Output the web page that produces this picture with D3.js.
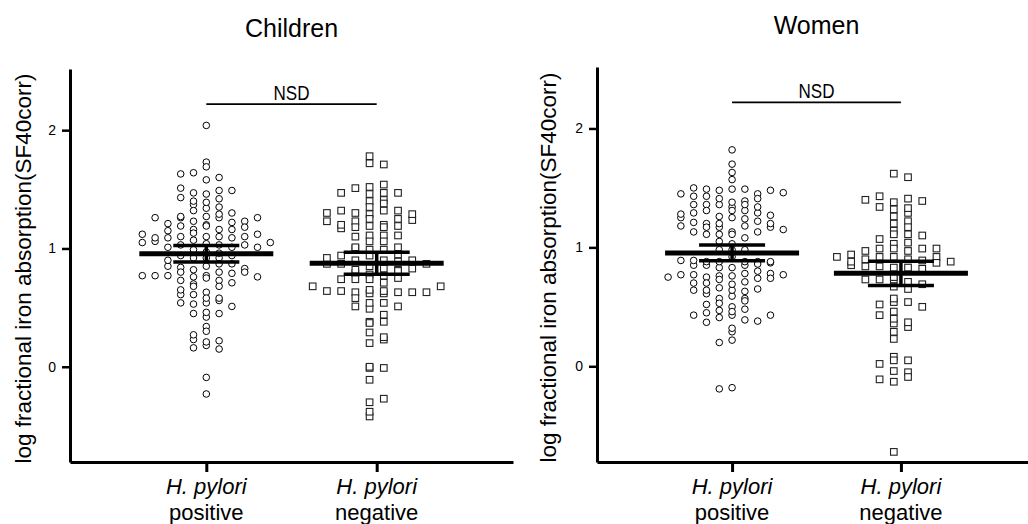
<!DOCTYPE html>
<html>
<head>
<meta charset="utf-8">
<script src="https://cdn.jsdelivr.net/npm/d3@7"></script>
<style>
  body { margin: 0; background: #fff; }
  svg { display: block; font-family: "Liberation Sans", Arial, sans-serif; }
</style>
</head>
<body>
<svg id="chart" width="1028" height="524"></svg>
<script>
// values (log fractional iron absorption)
const panelTitles = ["Children", "Women"];
const groupNames = ["positive", "negative"];
const yTicks = [0, 1, 2];
const sigLabel = "NSD";
const sigLevel = 2.22;

const childrenPositive = [
  1.05, 0.99, 0.77,
  1.12, 1.06, 0.85, 0.77,
  1.26, 1.21, 1.15, 1.09, 1.01, 0.90, 0.84, 0.77,
  1.26, 1.19, 1.09, 0.94, 0.80, 0.73, 0.61,
  1.51, 1.43, 1.37, 1.23, 1.16, 1.10, 1.03, 0.92, 0.76, 0.65, 0.54, 0.45,
  1.73, 1.63, 1.47, 1.40, 1.34, 1.27, 1.20, 1.13, 1.07, 0.97, 0.92, 0.82, 0.77, 0.70, 0.53, 0.34, 0.23, 0.16,
  2.04, 1.64, 1.58, 1.46, 1.39, 1.32, 1.26, 1.19, 1.10, 1.04, 0.92, 0.85, 0.75, 0.68, 0.61, 0.54, 0.42, 0.27, 0.18, -0.09, -0.23,
  1.69, 1.60, 1.49, 1.42, 1.35, 1.27, 1.10, 1.03, 0.96, 0.80, 0.73, 0.63, 0.56, 0.46, 0.30, 0.21, 0.15,
  1.49, 1.29, 1.22, 1.16, 1.09, 1.01, 0.87, 0.68, 0.58, 0.51, 0.45, 0.22,
  1.30, 1.23, 1.16, 1.10, 1.03, 0.87, 0.79, 0.71, 0.58,
  1.26, 1.18, 0.94, 0.83,
  1.12, 1.01, 0.80,
  1.05, 0.76
];
const childrenNegative = [
  0.68,
  1.30, 1.23, 0.87, 0.64,
  1.32, 1.17, 0.87, 0.79, 0.74, 0.64,
  1.52, 1.30, 1.20, 1.00, 0.92, 0.78, 0.63, 0.58, 0.49,
  1.47, 1.40, 1.29, 1.23, 1.10, 1.01, 0.94, 0.90, 0.82, 0.62, 0.51, 0.44,
  1.72, 1.41, 1.25, 1.20, 1.11, 0.99, 0.85, 0.74, 0.65, 0.38, 0.20, -0.01, -0.30, -0.42,
  1.78, 1.71, 1.51, 1.46, 1.35, 1.25, 1.18, 1.11, 0.94, 0.90, 0.83, 0.74, 0.62, 0.54, 0.38, 0.29, 0.23, -0.01, -0.11, -0.27, -0.38,
  1.47, 1.38, 1.32, 1.19, 1.11, 1.06, 0.99, 0.89, 0.82, 0.77, 0.71, 0.64, 0.54, 0.37, 0.25, 0.00,
  1.54, 1.47, 1.24, 1.18, 1.06, 0.83, 0.63, 0.51,
  1.32, 1.19, 1.01, 0.95, 0.90, 0.81, 0.75, 0.63,
  1.29, 0.87, 0.63,
  0.68
];
const womenPositive = [
  0.85, 0.75,
  1.45, 1.36, 1.25, 1.18, 0.85, 0.77,
  1.50, 1.43, 1.36, 1.28, 1.21, 0.89, 0.83, 0.77, 0.70,
  1.43, 1.36, 1.29, 1.20, 1.13, 0.98, 0.89, 0.83, 0.75, 0.61, 0.43,
  1.49, 1.41, 1.17, 1.11, 0.88, 0.76, 0.70, 0.64, 0.57, 0.52, 0.45, 0.37,
  1.48, 1.31, 1.17, 1.11, 0.98, 0.88, 0.76, 0.64, 0.53, 0.47, 0.41,
  1.82, 1.70, 1.57, 1.49, 1.34, 1.26, 1.20, 1.13, 1.05, 0.98, 0.92, 0.85, 0.78, 0.66, 0.59, 0.50, 0.43, 0.29, 0.20, -0.19,
  1.63, 1.38, 1.31, 1.25, 1.18, 1.13, 1.03, 0.88, 0.80, 0.73, 0.64, 0.57, 0.46, 0.39, 0.32, 0.22, -0.18,
  1.49, 1.39, 1.31, 1.24, 1.17, 1.11, 0.69, 0.63, 0.55, 0.48, 0.38,
  1.45, 1.36, 1.29, 1.22, 1.08, 0.88, 0.78, 0.65, 0.43,
  1.48, 1.41, 1.34, 1.27, 1.20, 0.86, 0.77, 0.71,
  1.46, 1.15, 0.87, 0.74,
  0.88, 0.74
];
const womenNegative = [
  0.92, 0.85,
  0.94, 0.88, 0.73,
  1.34, 1.03, 0.97, 0.90,
  1.40, 1.32, 1.26, 1.14, 1.07, 0.99, 0.92, 0.84, 0.73, 0.52, 0.43, 0.36, 0.08, 0.02,
  1.62, 1.43, 1.38, 1.29, 0.99, 0.92, 0.84, 0.73, 0.67, 0.54, 0.40, 0.33, 0.05, -0.04, -0.11,
  0.23, -0.72,
  1.59, 1.41, 1.20, 1.11, 0.97, 0.90, 0.83, 0.71, 0.65, 0.54, 0.46, 0.29, 0.05, -0.05, -0.13,
  1.39, 1.33, 1.22, 1.11, 1.04, 0.89, 0.83, 0.75, 0.69, 0.57, 0.50, 0.37, -0.09,
  1.17, 1.10, 0.99, 0.92,
  0.99, 0.88, 0.82,
  0.87
];
const groupMeans = [[0.955, 0.874], [0.953, 0.782]];
const groupSem = [[0.070, 0.093], [0.066, 0.102]];

const panelData = [[childrenPositive, childrenNegative], [womenPositive, womenNegative]];

// layout
const layout = [
  { left: 70, right: 513, top: 69, bottom: 462, titleY: 28, labelX: 31 },
  { left: 597, right: 1036, top: 67, bottom: 462, titleY: 25, labelX: 556 }
];
const columnShift = [0, 0.5];   // circles sit on whole columns, squares on half columns
const yDomain = [-0.805, 2.517];
const halfSpread = 64;
const binPx = 7.5;

const svg = d3.select("#chart");

// spread points of one group sideways, row by row (Prism-like scatter)
function swarm(values, y, shift) {
  const pts = values.map((v, i) => ({ v: v, i: i, py: y(v) }));
  const rows = d3.group(pts, d => Math.floor(d.py / binPx));
  let maxOff = 0;
  rows.forEach(function (row) {
    const cand = [];
    for (let k = 0; cand.length < row.length; k++) {
      const o = shift ? (k % 2 ? 1 : -1) * (Math.floor(k / 2) + 0.5)
                      : (k === 0 ? 0 : (k % 2 ? -1 : 1) * Math.ceil(k / 2));
      cand.push(o);
    }
    cand.sort(d3.ascending);
    row.forEach(function (d, k) {
      d.off = cand[k];
      maxOff = Math.max(maxOff, Math.abs(d.off));
    });
  });
  const step = maxOff ? Math.min(halfSpread / maxOff, 15) : 0;
  pts.forEach(d => d.dx = d.off * step);
  return pts;
}

layout.forEach(function (L, p) {
  const g = svg.append("g");

  const y = d3.scaleLinear().domain(yDomain).range([L.bottom, L.top]);
  const x = d3.scalePoint().domain(groupNames).range([L.left, L.right]).padding(0.8);

  // y axis
  const yAxis = g.append("g")
    .attr("transform", "translate(" + L.left + ",0)")
    .call(d3.axisLeft(y).tickValues(yTicks).tickFormat(d3.format("d")).tickSize(8).tickSizeOuter(0).tickPadding(6));
  yAxis.select(".domain").attr("stroke-width", 3);
  yAxis.selectAll(".tick line").attr("stroke-width", 2.5);
  yAxis.selectAll(".tick text").attr("font-size", 14).attr("font-family", "Liberation Sans, Arial, sans-serif").attr("fill", "#000");

  // x axis
  const xAxis = g.append("g")
    .attr("transform", "translate(0," + L.bottom + ")")
    .call(d3.axisBottom(x).tickSize(10).tickSizeOuter(0).tickFormat(""));
  xAxis.select(".domain").attr("stroke-width", 3);
  xAxis.selectAll(".tick line").attr("stroke-width", 3);

  groupNames.forEach(function (name) {
    const t = g.append("text")
      .attr("x", x(name))
      .attr("text-anchor", "middle")
      .attr("font-size", 22);
    t.append("tspan").attr("x", x(name)).attr("y", 494).attr("font-style", "italic").text("H. pylori");
    t.append("tspan").attr("x", x(name)).attr("y", 520).text(name);
  });

  // titles
  const mid = (x(groupNames[0]) + x(groupNames[1])) / 2;
  g.append("text")
    .attr("x", mid).attr("y", L.titleY)
    .attr("dy", "0.35em")
    .attr("text-anchor", "middle")
    .attr("font-size", 25)
    .text(panelTitles[p]);

  g.append("text")
    .attr("transform", "translate(" + L.labelX + "," + ((L.top + L.bottom) / 2 + 3) + ") rotate(-90)")
    .attr("text-anchor", "middle")
    .attr("font-size", 22.5)
    .text("log fractional iron absorption(SF40corr)");

  // significance bar
  g.append("line")
    .attr("x1", x(groupNames[0])).attr("x2", x(groupNames[1]))
    .attr("y1", y(sigLevel)).attr("y2", y(sigLevel))
    .attr("stroke", "#000").attr("stroke-width", 1.7);
  g.append("text")
    .attr("x", mid).attr("y", y(sigLevel) - 4.5)
    .attr("text-anchor", "middle")
    .attr("font-size", 20)
    .attr("textLength", 36)
    .attr("lengthAdjust", "spacingAndGlyphs")
    .text(sigLabel);

  // points
  panelData[p].forEach(function (values, gi) {
    const cx = x(groupNames[gi]);
    const pts = swarm(values, y, columnShift[gi]);
    if (gi === 0) {
      g.append("g").selectAll("circle")
        .data(pts)
        .join("circle")
        .attr("cx", d => cx + d.dx)
        .attr("cy", d => d.py)
        .attr("r", 3.3)
        .attr("fill", "#fff")
        .attr("stroke", "#000")
        .attr("stroke-width", 1);
    } else {
      g.append("g").selectAll("rect")
        .data(pts)
        .join("rect")
        .attr("x", d => cx + d.dx - 3.3)
        .attr("y", d => d.py - 3.3)
        .attr("width", 6.6)
        .attr("height", 6.6)
        .attr("fill", "#fff")
        .attr("stroke", "#222")
        .attr("stroke-width", 1.1);
    }
  });

  // mean and SEM
  groupNames.forEach(function (name, gi) {
    const cx = x(name);
    const m = groupMeans[p][gi], s = groupSem[p][gi];
    const bars = g.append("g").attr("stroke", "#000");
    bars.append("line")
      .attr("x1", cx).attr("x2", cx)
      .attr("y1", y(m - s)).attr("y2", y(m + s))
      .attr("stroke-width", 3.5);
    [m - s, m + s].forEach(function (v) {
      bars.append("line")
        .attr("x1", cx - 33).attr("x2", cx + 33)
        .attr("y1", y(v)).attr("y2", y(v))
        .attr("stroke-width", 3.5);
    });
    bars.append("line")
      .attr("x1", cx - 67).attr("x2", cx + 67)
      .attr("y1", y(m)).attr("y2", y(m))
      .attr("stroke-width", 5);
  });
});
</script>
</body>
</html>
